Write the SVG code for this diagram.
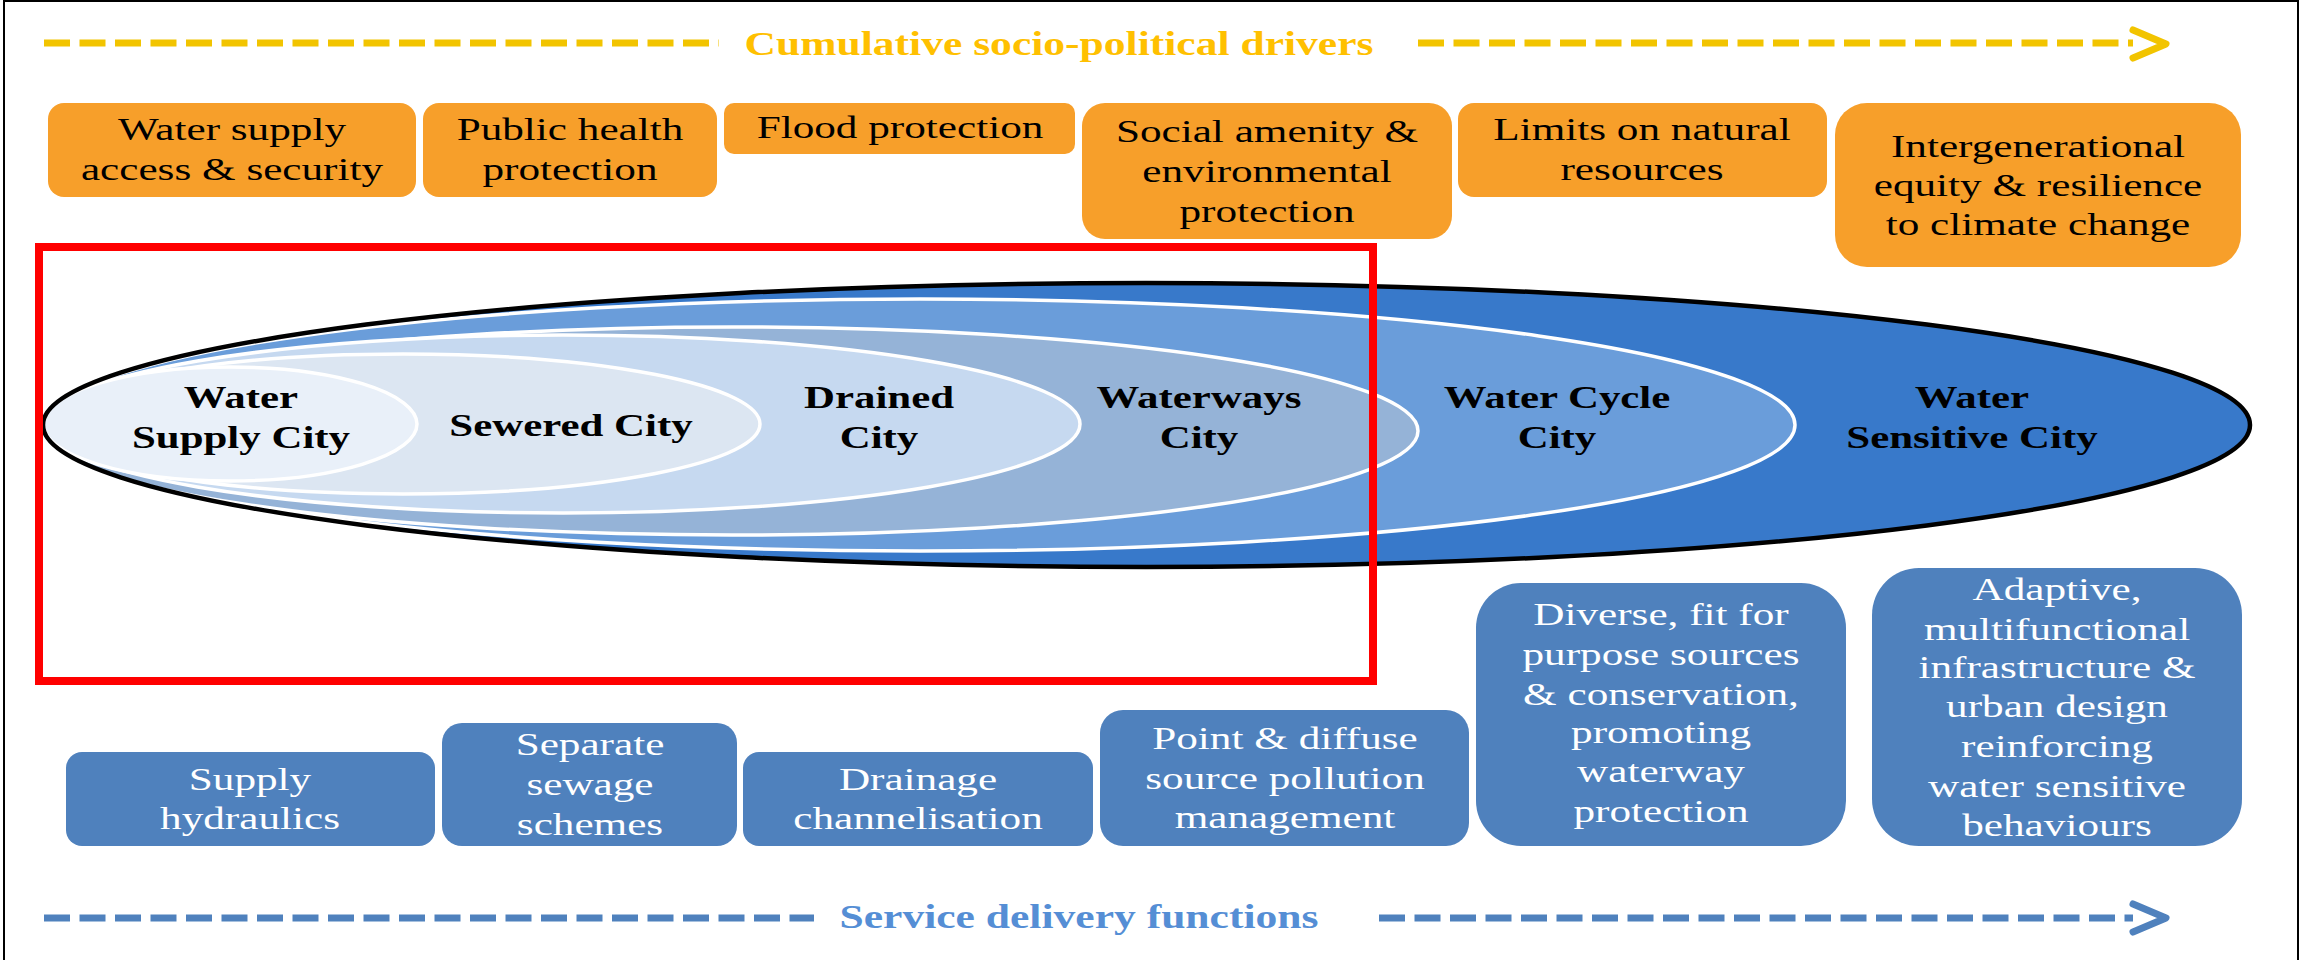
<svg xmlns="http://www.w3.org/2000/svg" width="2302" height="960" viewBox="0 0 2302 960">
<style>
.obox{fill:#F79F2A}
.bbox{fill:#4F81BD}
.t{font-family:"Liberation Serif","Times New Roman",serif;font-size:32px;text-anchor:middle}
.tk{fill:#000}
.tw{fill:#fff}
.tb{font-weight:bold}
.ell{stroke:#fff;stroke-width:3.5}
.dash{fill:none;stroke-width:7;stroke-dasharray:26 9.5}
.head{fill:none;stroke-width:7;stroke-linecap:round;stroke-linejoin:round}
</style>
<rect width="2302" height="960" fill="#fff"/>
<rect x="4" y="1" width="2294" height="965" fill="none" stroke="#000" stroke-width="2"/>

<g id="connectors">
  <g id="arrow-top">
    <line class="dash" x1="44" y1="43" x2="719" y2="43" stroke="#F2C400"/>
    <line class="dash" x1="1418" y1="43" x2="2133" y2="43" stroke="#F2C400"/>
    <polyline class="head" points="2133,30 2166,44 2133,58" stroke="#F2C400"/>
    <g transform="translate(1059 0) scale(1.32 1)"><text class="t tb" y="55" style="font-size:33px" fill="#FFC000">Cumulative socio-political drivers</text></g>
  </g>
  <g id="arrow-bottom">
    <line class="dash" x1="44" y1="918" x2="814" y2="918" stroke="#4F81BD"/>
    <line class="dash" x1="1379" y1="918" x2="2133" y2="918" stroke="#4F81BD"/>
    <polyline class="head" points="2133,904 2166,918 2133,932" stroke="#4F81BD"/>
    <g transform="translate(1079 0) scale(1.32 1)"><text class="t tb" y="928" style="font-size:33px" fill="#558ED5">Service delivery functions</text></g>
  </g>
</g>

<g id="driver-water-supply"><rect class="obox" x="48" y="103" width="368" height="94" rx="16"/>
<g transform="translate(232 0) scale(1.35 1)"><text class="t tk" y="140">Water supply</text><text class="t tk" y="180">access &amp; security</text></g></g>
<g id="driver-public-health"><rect class="obox" x="423" y="103" width="294" height="94" rx="16"/>
<g transform="translate(570 0) scale(1.35 1)"><text class="t tk" y="140">Public health</text><text class="t tk" y="180">protection</text></g></g>
<g id="driver-flood"><rect class="obox" x="724" y="103" width="351" height="51" rx="10"/>
<g transform="translate(900 0) scale(1.35 1)"><text class="t tk" y="138">Flood protection</text></g></g>
<g id="driver-social"><rect class="obox" x="1082" y="103" width="370" height="136" rx="23"/>
<g transform="translate(1267 0) scale(1.35 1)"><text class="t tk" y="142">Social amenity &amp;</text><text class="t tk" y="182">environmental</text><text class="t tk" y="222">protection</text></g></g>
<g id="driver-limits"><rect class="obox" x="1458" y="103" width="369" height="94" rx="16"/>
<g transform="translate(1642 0) scale(1.35 1)"><text class="t tk" y="140">Limits on natural</text><text class="t tk" y="180">resources</text></g></g>
<g id="driver-intergenerational"><rect class="obox" x="1835" y="103" width="406" height="164" rx="32"/>
<g transform="translate(2038 0) scale(1.35 1)"><text class="t tk" y="157">Intergenerational</text><text class="t tk" y="196">equity &amp; resilience</text><text class="t tk" y="235">to climate change</text></g></g>

<g id="city-water-sensitive"><ellipse cx="1146.5" cy="425" rx="1103.5" ry="142" fill="#3879CA"/></g>
<g id="city-water-cycle"><ellipse class="ell" cx="920" cy="425" rx="875" ry="126" fill="#6A9DDA"/></g>
<g id="city-waterways"><ellipse class="ell" cx="732" cy="431" rx="686" ry="104" fill="#95B3D7"/></g>
<g id="city-drained"><ellipse class="ell" cx="563" cy="424" rx="517" ry="89" fill="#C6D9F0"/></g>
<g id="city-sewered"><ellipse class="ell" cx="403" cy="424" rx="357" ry="70" fill="#DCE6F2"/></g>
<g id="city-water-supply"><ellipse class="ell" cx="230" cy="424" rx="187" ry="57" fill="#E9F0F9"/></g>
<ellipse cx="1146.5" cy="425" rx="1103.5" ry="142" fill="none" stroke="#000" stroke-width="4.5"/>

<g id="city-labels">
<g transform="translate(241 0) scale(1.34 1)"><text class="t tk tb" y="408">Water</text><text class="t tk tb" y="448">Supply City</text></g>
<g transform="translate(571 0) scale(1.34 1)"><text class="t tk tb" y="436">Sewered City</text></g>
<g transform="translate(879 0) scale(1.34 1)"><text class="t tk tb" y="408">Drained</text><text class="t tk tb" y="448">City</text></g>
<g transform="translate(1199 0) scale(1.34 1)"><text class="t tk tb" y="408">Waterways</text><text class="t tk tb" y="448">City</text></g>
<g transform="translate(1557 0) scale(1.34 1)"><text class="t tk tb" y="408">Water Cycle</text><text class="t tk tb" y="448">City</text></g>
<g transform="translate(1972 0) scale(1.34 1)"><text class="t tk tb" y="408">Water</text><text class="t tk tb" y="448">Sensitive City</text></g>
</g>

<rect id="highlight" x="39" y="247" width="1334" height="434" fill="none" stroke="#FF0000" stroke-width="8"/>

<g id="func-supply"><rect class="bbox" x="66" y="752" width="369" height="94" rx="16"/>
<g transform="translate(250 0) scale(1.35 1)"><text class="t tw" y="790">Supply</text><text class="t tw" y="829">hydraulics</text></g></g>
<g id="func-sewage"><rect class="bbox" x="442" y="723" width="295" height="123" rx="20"/>
<g transform="translate(590 0) scale(1.35 1)"><text class="t tw" y="755">Separate</text><text class="t tw" y="795">sewage</text><text class="t tw" y="835">schemes</text></g></g>
<g id="func-drainage"><rect class="bbox" x="743" y="752" width="350" height="94" rx="16"/>
<g transform="translate(918 0) scale(1.35 1)"><text class="t tw" y="790">Drainage</text><text class="t tw" y="829">channelisation</text></g></g>
<g id="func-pollution"><rect class="bbox" x="1100" y="710" width="369" height="136" rx="23"/>
<g transform="translate(1285 0) scale(1.35 1)"><text class="t tw" y="749">Point &amp; diffuse</text><text class="t tw" y="789">source pollution</text><text class="t tw" y="828">management</text></g></g>
<g id="func-diverse"><rect class="bbox" x="1476" y="583" width="370" height="263" rx="45"/>
<g transform="translate(1661 0) scale(1.35 1)"><text class="t tw" y="625">Diverse, fit for</text><text class="t tw" y="665">purpose sources</text><text class="t tw" y="705">&amp; conservation,</text><text class="t tw" y="743">promoting</text><text class="t tw" y="782">waterway</text><text class="t tw" y="822">protection</text></g></g>
<g id="func-adaptive"><rect class="bbox" x="1872" y="568" width="370" height="278" rx="47"/>
<g transform="translate(2057 0) scale(1.35 1)"><text class="t tw" y="600">Adaptive,</text><text class="t tw" y="640">multifunctional</text><text class="t tw" y="678">infrastructure &amp;</text><text class="t tw" y="717">urban design</text><text class="t tw" y="757">reinforcing</text><text class="t tw" y="797">water sensitive</text><text class="t tw" y="836">behaviours</text></g></g>
</svg>
